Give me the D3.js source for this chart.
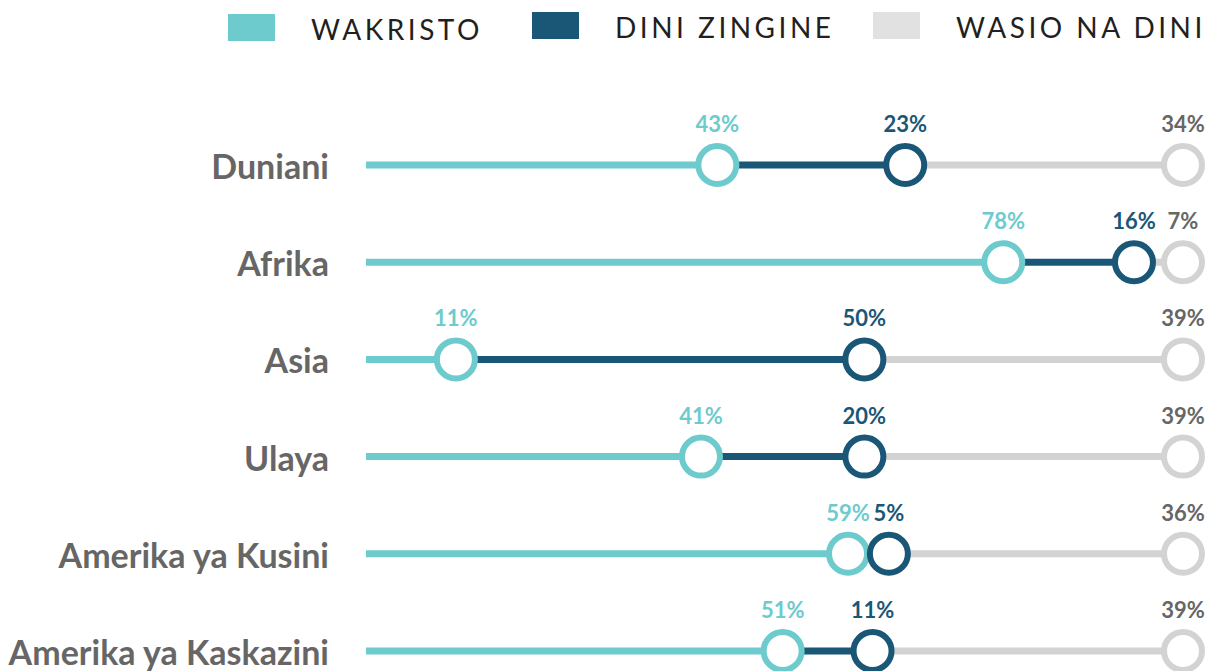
<!DOCTYPE html>
<html>
<head>
<meta charset="utf-8">
<script src="https://cdn.jsdelivr.net/npm/d3@7"></script>
<style>
  body { margin: 0; background: #fff; }
  text { font-family: Lato, "Open Sans", sans-serif; }
</style>
</head>
<body>
<svg id="chart"></svg>
<script>
// regions and shares (%)
const regions = ["Duniani", "Afrika", "Asia", "Ulaya", "Amerika ya Kusini", "Amerika ya Kaskazini"];
const christians = [43, 78, 11, 41, 59, 51];
const otherReligions = [23, 16, 50, 20, 5, 11];
const noReligion = [34, 7, 39, 39, 36, 39];

const seriesNames = ["WAKRISTO", "DINI ZINGINE", "WASIO NA DINI"];
const colors = ["#6dcbcd", "#1a5777", "#d3d3d4"];
const labelColors = ["#6dcbcd", "#1a5777", "#666666"];

const width = 1214, height = 671;

const svg = d3.select("#chart")
  .attr("width", width)
  .attr("height", height);

const x = d3.scaleLinear().domain([0, 100]).range([366, 1183]);
const y = d3.scalePoint().domain(regions).range([165, 651]);

const rows = regions.map((r, i) => ({
  region: r,
  vals: [christians[i], otherReligions[i], noReligion[i]],
  cum: [christians[i], christians[i] + otherReligions[i], 100]
}));

// legend
const legendX = [228, 532, 873];
const legendY = [14, 12, 12];
const legend = svg.append("g");
seriesNames.forEach((name, i) => {
  legend.append("rect")
    .attr("x", legendX[i]).attr("y", legendY[i])
    .attr("width", 47).attr("height", 27)
    .attr("fill", i == 2 ? "#e1e1e2" : colors[i]);
  legend.append("text")
    .attr("x", legendX[i] + 83).attr("y", legendY[i] + 26)
    .attr("font-size", 28)
    .attr("letter-spacing", 3.5)
    .attr("fill", "#231f20")
    .text(name);
});

const row = svg.append("g").selectAll("g")
  .data(rows)
  .join("g")
  .attr("transform", d => `translate(0,${y(d.region)})`);

// region names
row.append("text")
  .attr("x", 329).attr("y", 14)
  .attr("text-anchor", "end")
  .attr("font-size", 34)
  .attr("font-weight", 700)
  .attr("fill", "#666")
  .text(d => d.region);

// segments
row.selectAll("line")
  .data(d => d.cum.map((c, i) => ({start: i == 0 ? 0 : d.cum[i - 1], end: c, i})))
  .join("line")
  .attr("x1", d => x(d.start))
  .attr("x2", d => x(d.end))
  .attr("stroke", d => colors[d.i])
  .attr("stroke-width", 7);

// dots
row.selectAll("circle")
  .data(d => d.cum.map((c, i) => ({pos: c, i})))
  .join("circle")
  .attr("cx", d => x(d.pos))
  .attr("r", 19)
  .attr("fill", "#fff")
  .attr("stroke", d => colors[d.i])
  .attr("stroke-width", 6);

// value labels
row.selectAll("text.val")
  .data(d => d.cum.map((c, i) => ({pos: c, v: d.vals[i], i})))
  .join("text")
  .attr("class", "val")
  .attr("x", d => x(d.pos))
  .attr("y", -33)
  .attr("text-anchor", "middle")
  .attr("font-size", 22)
  .attr("font-weight", 700)
  .attr("fill", d => labelColors[d.i])
  .text(d => d.v + "%");
</script>
</body>
</html>
